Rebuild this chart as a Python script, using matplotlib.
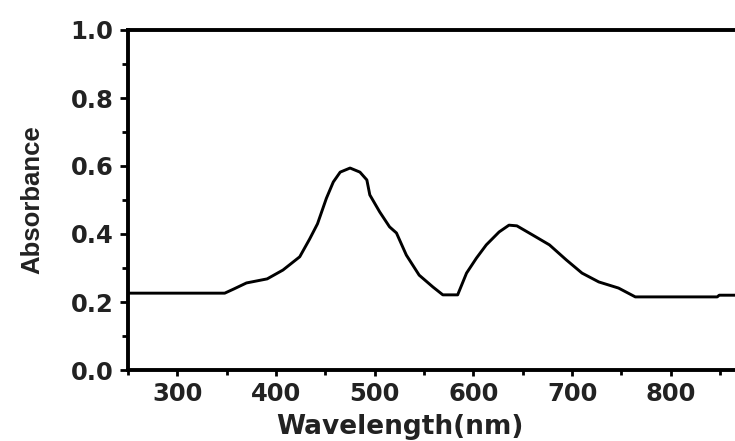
import matplotlib
matplotlib.use("Agg")
import matplotlib.pyplot as plt
from matplotlib.ticker import MultipleLocator, FormatStrFormatter

wavelength = [250, 300, 348, 357, 370, 391, 407, 424, 434, 442, 451, 458, 465,
              475, 485, 492, 495, 505, 515, 522, 532, 545, 559, 569, 584, 593,
              603, 613, 626, 636, 644, 660, 677, 694, 710, 727, 747, 764, 800,
              847, 849, 865]
absorbance = [0.226, 0.226, 0.226, 0.238, 0.256, 0.268, 0.294, 0.333, 0.385,
              0.43, 0.505, 0.553, 0.582, 0.594, 0.582, 0.559, 0.515, 0.465,
              0.421, 0.403, 0.338, 0.279, 0.244, 0.221, 0.221, 0.285, 0.329,
              0.368, 0.406, 0.426, 0.424, 0.397, 0.368, 0.324, 0.285, 0.259,
              0.241, 0.215, 0.215, 0.215, 0.22, 0.22]

fig = plt.figure(figsize=(7.35, 4.41), dpi=100)
ax = fig.add_axes([128/735, 1-370/441, 1-128/735, 340/441])

ax.plot(wavelength, absorbance, color="black", lw=2.1)

ax.set_xlim(250, 865)
ax.set_ylim(0, 1.0)
ax.xaxis.set_major_locator(MultipleLocator(100))
ax.xaxis.set_minor_locator(MultipleLocator(50))
ax.yaxis.set_major_locator(MultipleLocator(0.2))
ax.yaxis.set_minor_locator(MultipleLocator(0.1))
ax.yaxis.set_major_formatter(FormatStrFormatter("%.1f"))

for s in ["left", "bottom", "top"]:
    ax.spines[s].set_linewidth(2.8)
ax.spines["right"].set_visible(False)

ax.tick_params(axis="both", which="both", direction="out", width=2, colors="black",
               top=False, right=False)
ax.tick_params(axis="y", which="major", length=5.5, pad=5)
ax.tick_params(axis="y", which="minor", length=4)
ax.tick_params(axis="x", which="major", length=4.5, pad=4)
ax.tick_params(axis="x", which="minor", length=3.5)
for lab in ax.get_xticklabels() + ax.get_yticklabels():
    lab.set_fontfamily("DejaVu Sans")
    lab.set_fontweight("bold")
    lab.set_fontsize(17.5)
    lab.set_color("#222222")

ax.set_xlabel("Wavelength(nm)", fontfamily="DejaVu Sans", fontweight="bold",
              fontsize=19, color="#222222")
ax.xaxis.set_label_coords((400-128)/607, (370-414)/340)
ax.xaxis.label.set_va("top")
ax.set_ylabel("Absorbance", fontfamily="Liberation Sans", fontweight="bold",
              fontsize=18.5, color="#222222")
ax.yaxis.set_label_coords((44-128)/607, 0.5)

fig.savefig("out.png", dpi=100)
